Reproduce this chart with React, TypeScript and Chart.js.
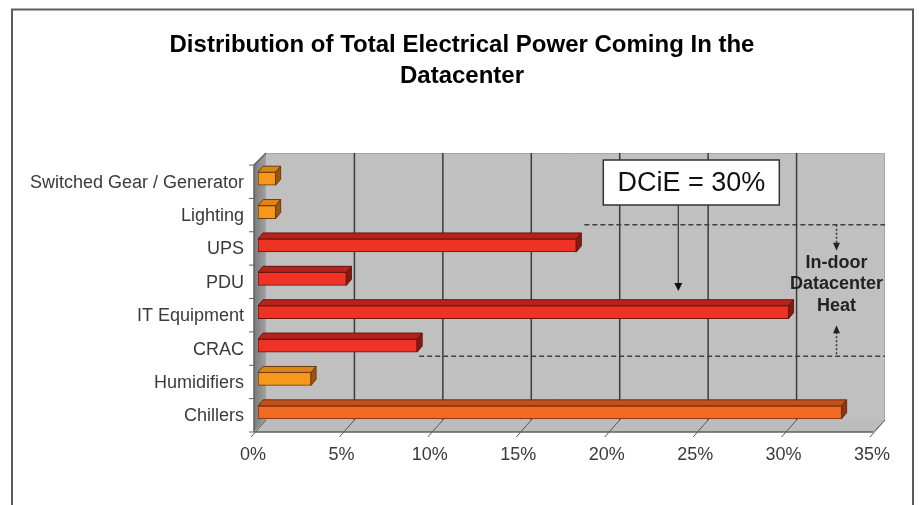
import React, { useEffect, useRef } from "react";
import { Chart, registerables } from "chart.js";

Chart.register(...registerables);

// ---------- data ----------
const titleLines = ["Distribution of Total Electrical Power Coming In the", "Datacenter"];
const categories = [
  "Switched Gear / Generator",
  "Lighting",
  "UPS",
  "PDU",
  "IT Equipment",
  "CRAC",
  "Humidifiers",
  "Chillers",
];
const shares = [1, 1, 18, 5, 30, 9, 3, 33];
const colourGroups = ["aux", "aux", "it", "it", "it", "it", "aux", "chill"];
const axisMin = 0;
const axisMax = 35;
const axisStep = 5;
const dcieText = "DCiE = 30%";
const heatLines = ["In-door", "Datacenter", "Heat"];

// ---------- styles ----------
const FONT = "'Liberation Sans', Arial, Helvetica, sans-serif";
const palette: Record<string, { front: string; top: string; side: string; border: string }> = {
  aux: { front: "#F7981D", top: "#DC861A", side: "#9C5510", border: "#6E3B0C" },
  it: { front: "#EC3324", top: "#B3241B", side: "#861A13", border: "#6B1410" },
  chill: { front: "#F26A22", top: "#C4511A", side: "#8E3812", border: "#6E2C0E" },
};
// bar plane -> front plane / back wall offsets
const FRONT_DX = -4;
const FRONT_DY = 3;
const DEPTH = 12;
const BAR_DX = 5;
const BAR_DY = -6;

function line(ctx: CanvasRenderingContext2D, x1: number, y1: number, x2: number, y2: number) {
  ctx.beginPath();
  ctx.moveTo(x1, y1);
  ctx.lineTo(x2, y2);
  ctx.stroke();
}

function arrowHead(ctx: CanvasRenderingContext2D, x: number, tipY: number, dir: number, len = 8, half = 4) {
  ctx.beginPath();
  ctx.moveTo(x, tipY);
  ctx.lineTo(x - half, tipY - dir * len);
  ctx.lineTo(x + half, tipY - dir * len);
  ctx.closePath();
  ctx.fill();
}

const threeD = {
  id: "threeD",
  beforeDraw(chart: any) {
    const { ctx, width, height } = chart;
    ctx.save();
    ctx.fillStyle = "#ffffff";
    ctx.fillRect(0, 0, width, height);
    ctx.strokeStyle = "#5c5c5c";
    ctx.lineWidth = 2;
    line(ctx, 12, 9, 12, height);
    line(ctx, 11, 9.5, 914, 9.5);
    line(ctx, 913, 9, 913, height);
    ctx.restore();
  },
  beforeDatasetsDraw(chart: any) {
    const { ctx, chartArea: a, scales } = chart;
    const xs = scales.x;
    const ys = scales.y;
    const fl = a.left + FRONT_DX, ft = a.top + FRONT_DY, fr = a.right + FRONT_DX, fb = a.bottom + FRONT_DY;
    const bl = fl + DEPTH, bt = ft - DEPTH, br = fr + DEPTH, bb = fb - DEPTH;
    ctx.save();
    // back wall
    ctx.fillStyle = "#c0c0c0";
    ctx.fillRect(bl, bt, br - bl, bb - bt);
    ctx.strokeStyle = "#a8a8a8";
    ctx.lineWidth = 1;
    line(ctx, bl, bt + 0.5, br, bt + 0.5);
    line(ctx, br - 0.5, bt, br - 0.5, bb);
    // side wall
    const g = ctx.createLinearGradient(fl, 0, bl, 0);
    g.addColorStop(0, "#7a7a7a");
    g.addColorStop(1, "#a2a2a2");
    ctx.fillStyle = g;
    ctx.beginPath();
    ctx.moveTo(fl, ft);
    ctx.lineTo(bl, bt);
    ctx.lineTo(bl, bb);
    ctx.lineTo(fl, fb);
    ctx.closePath();
    ctx.fill();
    // floor
    ctx.fillStyle = "#bcbcbc";
    ctx.beginPath();
    ctx.moveTo(fl, fb);
    ctx.lineTo(fr, fb);
    ctx.lineTo(br, bb);
    ctx.lineTo(bl, bb);
    ctx.closePath();
    ctx.fill();
    ctx.strokeStyle = "#9a9a9a";
    line(ctx, fr, fb, br, bb);
    // gridlines on the back wall
    ctx.strokeStyle = "#3c3c3c";
    ctx.lineWidth = 1.5;
    for (let v = axisMin + axisStep; v < axisMax; v += axisStep) {
      const xb = xs.getPixelForValue(v) + FRONT_DX + DEPTH;
      line(ctx, xb, bt, xb, bb);
    }
    // floor ticks
    ctx.strokeStyle = "#555";
    ctx.lineWidth = 1;
    for (let v = axisMin; v <= axisMax; v += axisStep) {
      const xf = xs.getPixelForValue(v) + FRONT_DX;
      line(ctx, xf - 3, fb + 5, xf + DEPTH, bb);
    }
    // axis edges
    ctx.strokeStyle = "#606060";
    ctx.lineWidth = 1.5;
    line(ctx, fl, fb, fr, fb);
    line(ctx, fl, ft, fl, fb);
    line(ctx, fl, ft, bl, bt);
    // category ticks
    ctx.lineWidth = 1;
    const n = categories.length;
    for (let i = 0; i <= n; i++) {
      let yy;
      if (i === 0) yy = a.top;
      else if (i === n) yy = a.bottom;
      else yy = (ys.getPixelForValue(i - 1) + ys.getPixelForValue(i)) / 2;
      yy += FRONT_DY;
      line(ctx, fl - 5, yy, fl, yy);
    }
    ctx.restore();
  },
  afterDatasetsDraw(chart: any) {
    const { ctx, chartArea: a, scales } = chart;
    const xs = scales.x;
    const ys = scales.y;
    const meta = chart.getDatasetMeta(0);
    ctx.save();
    ctx.lineWidth = 1;
    meta.data.forEach((bar: any, i: number) => {
      const p = bar.getProps(["x", "y", "base", "height"], true);
      const c = palette[colourGroups[i]];
      const left = Math.min(p.x, p.base);
      const right = Math.max(p.x, p.base);
      const top = p.y - p.height / 2;
      const bottom = p.y + p.height / 2;
      ctx.strokeStyle = c.border;
      // top face
      ctx.fillStyle = c.top;
      ctx.beginPath();
      ctx.moveTo(left, top);
      ctx.lineTo(right, top);
      ctx.lineTo(right + BAR_DX, top + BAR_DY);
      ctx.lineTo(left + BAR_DX, top + BAR_DY);
      ctx.closePath();
      ctx.fill();
      ctx.stroke();
      // right face
      ctx.fillStyle = c.side;
      ctx.beginPath();
      ctx.moveTo(right, top);
      ctx.lineTo(right + BAR_DX, top + BAR_DY);
      ctx.lineTo(right + BAR_DX, bottom + BAR_DY);
      ctx.lineTo(right, bottom);
      ctx.closePath();
      ctx.fill();
      ctx.stroke();
    });

    // annotations
    const br = a.right + FRONT_DX + DEPTH;
    const upperY = (ys.getPixelForValue(1) + ys.getPixelForValue(2)) / 2 - 4;
    const lowerY = (ys.getPixelForValue(5) + ys.getPixelForValue(6)) / 2 - 6;
    ctx.strokeStyle = "#404040";
    ctx.lineWidth = 1.5;
    ctx.setLineDash([5, 3]);
    line(ctx, xs.getPixelForValue(shares[2]) + 8, upperY, br, upperY);
    line(ctx, xs.getPixelForValue(shares[5]) + 2, lowerY, br, lowerY);

    // heat arrows
    const hx = br - 48.5;
    ctx.setLineDash([2, 2]);
    ctx.strokeStyle = "#333";
    line(ctx, hx, upperY, hx, upperY + 18);
    line(ctx, hx, lowerY - 24, hx, lowerY);
    ctx.setLineDash([]);
    ctx.fillStyle = "#222";
    arrowHead(ctx, hx, upperY + 26, 1, 8, 3.5);
    arrowHead(ctx, hx, lowerY - 31, -1, 8, 3.5);
    ctx.font = `bold 18px ${FONT}`;
    ctx.textAlign = "center";
    ctx.textBaseline = "middle";
    heatLines.forEach((t, k) => ctx.fillText(t, hx, upperY + 38 + k * 21.5));

    // DCiE box
    const bx = xs.getPixelForValue(24.5);
    const bw = 176;
    const bh = 45;
    const by = 160;
    ctx.fillStyle = "#ffffff";
    ctx.fillRect(bx - bw / 2, by, bw, bh);
    ctx.strokeStyle = "#333";
    ctx.lineWidth = 1.5;
    ctx.strokeRect(bx - bw / 2, by, bw, bh);
    ctx.fillStyle = "#111";
    ctx.font = `27px ${FONT}`;
    ctx.fillText(dcieText, bx, by + bh / 2 + 1);
    const ax = bx - 13;
    ctx.lineWidth = 1.2;
    line(ctx, ax, by + bh, ax, 284);
    ctx.fillStyle = "#111";
    arrowHead(ctx, ax, 291, 1, 8, 4);
    ctx.restore();
  },
};

export default function App() {
  const ref = useRef<HTMLCanvasElement | null>(null);
  useEffect(() => {
    if (!ref.current) return;
    const chart = new Chart(ref.current, {
      type: "bar",
      data: {
        labels: categories,
        datasets: [
          {
            data: shares,
            backgroundColor: colourGroups.map((g) => palette[g].front),
            borderColor: colourGroups.map((g) => palette[g].border),
            borderWidth: 1,
            borderSkipped: false,
            barThickness: 13,
          },
        ],
      },
      options: {
        indexAxis: "y",
        animation: false,
        responsive: true,
        maintainAspectRatio: false,
        layout: { padding: { left: 5, right: 0, top: 0, bottom: 0 } },
        plugins: {
          legend: { display: false },
          tooltip: { enabled: false },
          title: {
            display: true,
            text: titleLines,
            color: "#000",
            font: { family: FONT, size: 24, weight: "bold", lineHeight: 31 / 24 },
            padding: { top: 30, bottom: 70 },
          },
        },
        scales: {
          x: {
            min: axisMin,
            max: axisMax,
            grid: { display: false, drawTicks: false },
            border: { display: false },
            ticks: {
              stepSize: axisStep,
              padding: 15,
              labelOffset: -5,
              color: "#3a3a3a",
              font: { family: FONT, size: 18 },
              callback: (v: any) => `${v}%`,
            },
            afterFit: (s: any) => {
              s.height = 76;
            },
          },
          y: {
            grid: { display: false, drawTicks: false },
            border: { display: false },
            ticks: {
              padding: 14,
              labelOffset: 4,
              color: "#3a3a3a",
              font: { family: FONT, size: 18 },
            },
            afterFit: (s: any) => {
              s.width = 253;
            },
          },
          rightGap: {
            type: "linear",
            position: "right",
            display: true,
            grid: { display: false, drawTicks: false },
            border: { display: false },
            ticks: { display: false },
            afterFit: (s: any) => {
              s.width = 42;
            },
          },
        },
      },
      plugins: [threeD],
    });
    return () => chart.destroy();
  }, []);
  return (
    <div style={{ position: "absolute", left: 0, top: 0, width: 919, height: 505 }}>
      <canvas ref={ref} />
    </div>
  );
}
